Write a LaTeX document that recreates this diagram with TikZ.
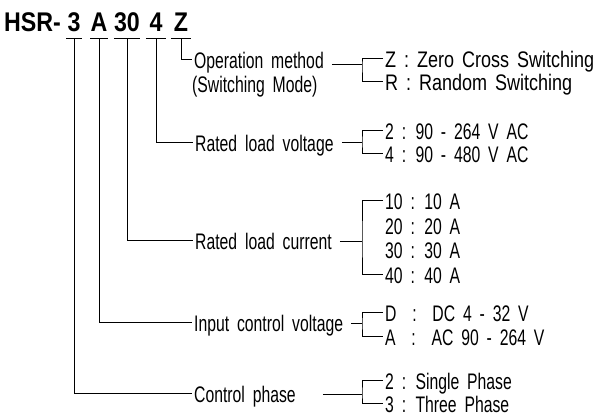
\documentclass[tikz,border=0pt]{standalone}
\usepackage{fontspec}
\setmainfont{Liberation Sans}[FakeStretch=0.70, WordSpace=1.8]
\newfontfamily\codefont{Liberation Sans}[FakeStretch=0.86]
\newfontfamily\modefont{Liberation Sans}[FakeStretch=0.80, WordSpace=1.6]
\usetikzlibrary{positioning}

\begin{document}
\begin{tikzpicture}[
    x=1pt, y=-1pt,
    font=\fontsize{22.5}{24}\selectfont, % teks utama
    code/.style={font=\codefont\bfseries\fontsize{27}{29}\selectfont, inner xsep=0pt, inner ysep=6pt, text depth=0pt, anchor=south},
    field/.style={inner xsep=2pt, inner ysep=1pt, text height=18pt, text depth=0pt, anchor=west},
    option/.style={inner xsep=2pt, inner ysep=1pt, text height=18pt, text depth=0pt, anchor=west},
    wideoption/.style={option, font=\modefont\fontsize{22.5}{24}\selectfont},
    link/.style={draw, line width=0.8pt}
]
\useasboundingbox (0,0) rectangle (604,416);

% Kode model
\node[code, anchor=south west] (chsr) at (4,38) {HSR-};
\node[code, minimum width=15pt] (c3) at (74,38) {3};
\node[code, minimum width=16pt] (cA) at (99,38) {A};
\node[code, minimum width=20pt] (c30) at (127,38) {30};
\node[code, minimum width=20pt] (c4) at (156,38) {4};
\node[code, minimum width=20pt] (cZ) at (181,38) {Z};

% Keterangan
\node[field] (opmode) at (192,59) {Operation method};
\node[field] (swmode) at (190,83) {(Switching Mode)};
\node[field] (rlv) at (193,142) {Rated load voltage};
\node[field] (rlc) at (193,240) {Rated load current};
\node[field] (icv) at (192,322) {Input control voltage};
\node[field] (cph) at (192,393) {Control phase};

% Pilihan
\node[wideoption] (oZ) at (383,58.5) {Z~:~Zero Cross Switching};
\node[wideoption] (oR) at (383,81.5) {R~:~Random Switching};
\node[option] (v2) at (383,130.5) {2 : 90 - 264 V AC};
\node[option] (v4) at (383,153.5) {4 : 90 - 480 V AC};
\node[option] (a10) at (383,200.5) {10 : 10 A};
\node[option] (a20) at (383,225) {20 : 20 A};
\node[option] (a30) at (383,249.5) {30 : 30 A};
\node[option] (a40) at (383,274) {40 : 40 A};
\node[option] (vD) at (383,312.5) {D~~:~~DC 4 - 32 V};
\node[option] (vA) at (383,336.5) {A~~:~~AC 90 - 264 V};
\node[option] (p2) at (383,380) {2 : Single Phase};
\node[option] (p3) at (383,403) {3 : Three Phase};

% Titik kurung
\coordinate (bop) at (362,64);
\coordinate (brlv) at (362,142);
\coordinate (brlc) at (362,241);
\coordinate (bicv) at (362,323);
\coordinate (bcph) at (362,394);

% Garis bawah kode
\foreach \c in {c3, cA, c30, c4, cZ}
    \draw[link] (\c.south west) -- (\c.south east);

% Garis kode ke keterangan
\draw[link] (cZ.south) |- (opmode.west);
\draw[link] (c4.south) |- (rlv.west);
\draw[link] (c30.south) |- (rlc.west);
\draw[link] (cA.south) |- (icv.west);
\draw[link] (c3.south) |- (cph.west);

% Garis keterangan ke kurung
\draw[link] ([xshift=6pt]opmode.east |- bop) -- (bop);
\draw[link] ([xshift=6pt]rlv.east |- brlv) -- (brlv);
\draw[link] ([xshift=6pt]rlc.east |- brlc) -- (brlc);
\draw[link] ([xshift=6pt]icv.east |- bicv) -- (bicv);
\draw[link] ([xshift=25pt]cph.east |- bcph) -- (bcph);

% Kurung
\draw[link] (oZ.west) -| (bop) |- (oR.west);
\draw[link] (v2.west) -| (brlv) |- (v4.west);
\draw[link] (a10.west) -| (brlc) |- (a40.west);
\draw[link] (vD.west) -| (bicv) |- (vA.west);
\draw[link] (p2.west) -| (bcph) |- (p3.west);

\end{tikzpicture}
\end{document}
